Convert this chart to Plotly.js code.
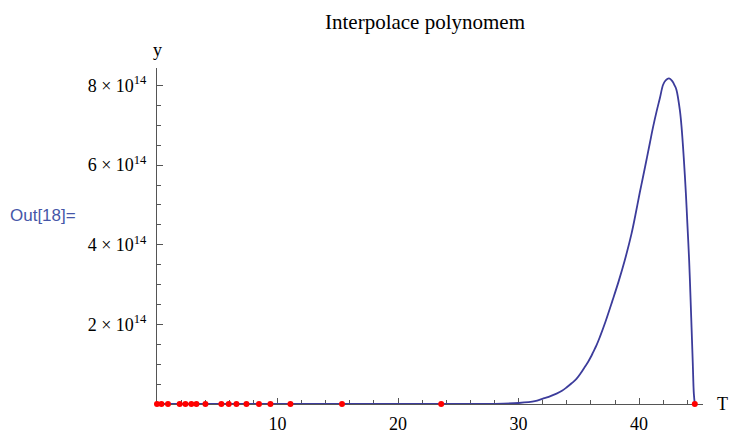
<!DOCTYPE html>
<html>
<head>
<meta charset="utf-8">
<script src="https://cdn.plot.ly/plotly-3.0.1.min.js"></script>
<style>html,body{margin:0;padding:0;background:#fff;}#chart{width:731px;height:432px;}</style>
</head>
<body>
<div id="chart"></div>
<script>
// Interpolation nodes (T, y) (y values are ~0 at this scale)
const nodeT = [0, 0.37, 0.91, 1.88, 2.36, 2.85, 3.27, 4.02, 5.34, 5.95, 6.59, 7.42, 8.46, 9.41, 11.07, 15.35, 23.58, 44.62];
const nodeY = [0, 0, 0, 0, 0, 0, 0, 0, 0, 0, 0, 0, 0, 0, 0, 0, 0, 0];

// Interpolating polynomial curve
const curveT = [0, 10, 20, 26, 28, 30.0, 31.35, 31.98, 32.5, 33.15, 33.6, 34.0, 34.4, 34.8, 35.15, 35.49, 35.75, 35.99, 36.2, 36.46, 36.74, 37.2, 37.78, 38.3, 38.81, 39.37, 39.7, 40.06, 40.3, 40.61, 40.9, 41.16, 41.45, 41.72, 41.99, 42.2, 42.48, 42.75, 42.95, 43.1, 43.38, 43.52, 43.7, 43.88, 44.0, 44.15, 44.25, 44.35, 44.45, 44.54, 44.62];
const curveY = [0, 0, 0, 0, 0.003e14, 0.025e14, 0.07e14, 0.13e14, 0.18e14, 0.26e14, 0.33e14, 0.42e14, 0.52e14, 0.63e14, 0.77e14, 0.93e14, 1.05e14, 1.18e14, 1.31e14, 1.47e14, 1.68e14, 2.06e14, 2.59e14, 3.08e14, 3.61e14, 4.28e14, 4.76e14, 5.32e14, 5.67e14, 6.13e14, 6.57e14, 6.96e14, 7.35e14, 7.68e14, 8.02e14, 8.13e14, 8.18e14, 8.11e14, 8.0e14, 7.89e14, 7.38e14, 6.96e14, 6.2e14, 5.29e14, 4.55e14, 3.61e14, 2.8e14, 1.93e14, 1.05e14, 0.26e14, 0];

const xTicks = [10, 20, 30, 40];
const xTickText = ['10', '20', '30', '40'];
const yTicks = [2e14, 4e14, 6e14, 8e14];
const yTickText = ['2 × 10<sup>14</sup>', '4 × 10<sup>14</sup>', '6 × 10<sup>14</sup>', '8 × 10<sup>14</sup>'];

const serif = 'Liberation Serif, Times New Roman, serif';
const axisCol = '#555555';

const traces = [
  {
    x: curveT, y: curveY, type: 'scatter', mode: 'lines',
    line: {color: '#3c3c9b', width: 1.8, shape: 'spline', smoothing: 1},
    hoverinfo: 'skip'
  },
  {
    x: nodeT, y: nodeY, type: 'scatter', mode: 'markers',
    marker: {color: '#ff0000', size: 6},
    cliponaxis: false
  }
];

const layout = {
  width: 731, height: 432,
  margin: {l: 157, r: 28, t: 68, b: 28},
  paper_bgcolor: '#ffffff', plot_bgcolor: '#ffffff',
  showlegend: false,
  font: {family: serif, color: '#000000', size: 18},
  title: {
    text: 'Interpolace polynomem',
    font: {family: serif, size: 21, color: '#000000'},
    xref: 'container', x: 0.5814, xanchor: 'center',
    yref: 'container', y: 0.949, yanchor: 'middle'
  },
  xaxis: {
    range: [0, 45.3],
    showgrid: false, zeroline: false,
    showline: true, linecolor: axisCol, linewidth: 1,
    ticks: 'inside', ticklen: 6, tickcolor: axisCol, tickwidth: 1,
    tickmode: 'array', tickvals: xTicks, ticktext: xTickText,
    tickfont: {family: serif, size: 18, color: '#000000'},
    ticklabelstandoff: 3,
    minor: {tickmode: 'linear', tick0: 0, dtick: 2, ticks: 'inside', ticklen: 4, tickcolor: axisCol, tickwidth: 1, showgrid: false},
    layer: 'below traces',
    fixedrange: true
  },
  yaxis: {
    range: [0, 8.44e14],
    showgrid: false, zeroline: false,
    showline: true, linecolor: axisCol, linewidth: 1,
    ticks: 'inside', ticklen: 6, tickcolor: axisCol, tickwidth: 1,
    tickmode: 'array', tickvals: yTicks, ticktext: yTickText,
    tickfont: {family: serif, size: 18, color: '#000000'},
    ticklabelstandoff: 6,
    minor: {tickmode: 'linear', tick0: 0, dtick: 0.5e14, ticks: 'inside', ticklen: 4, tickcolor: axisCol, tickwidth: 1, showgrid: false},
    layer: 'below traces',
    fixedrange: true
  },
  annotations: [
    {text: 'y', xref: 'paper', yref: 'paper', x: 0, y: 1.0536, xanchor: 'center', yanchor: 'middle', showarrow: false, font: {family: serif, size: 18, color: '#000000'}},
    {text: 'T', xref: 'paper', yref: 'paper', x: 1.0348, y: 0, xanchor: 'center', yanchor: 'middle', showarrow: false, font: {family: serif, size: 18, color: '#000000'}},
    {text: 'Out[18]=', xref: 'paper', yref: 'paper', x: -0.273, y: 0.5625, xanchor: 'left', yanchor: 'middle', showarrow: false, font: {family: 'Liberation Sans, Arial, sans-serif', size: 17, color: '#4656a8'}}
  ]
};

Plotly.newPlot('chart', traces, layout, {displayModeBar: false, staticPlot: true});
</script>
</body>
</html>
